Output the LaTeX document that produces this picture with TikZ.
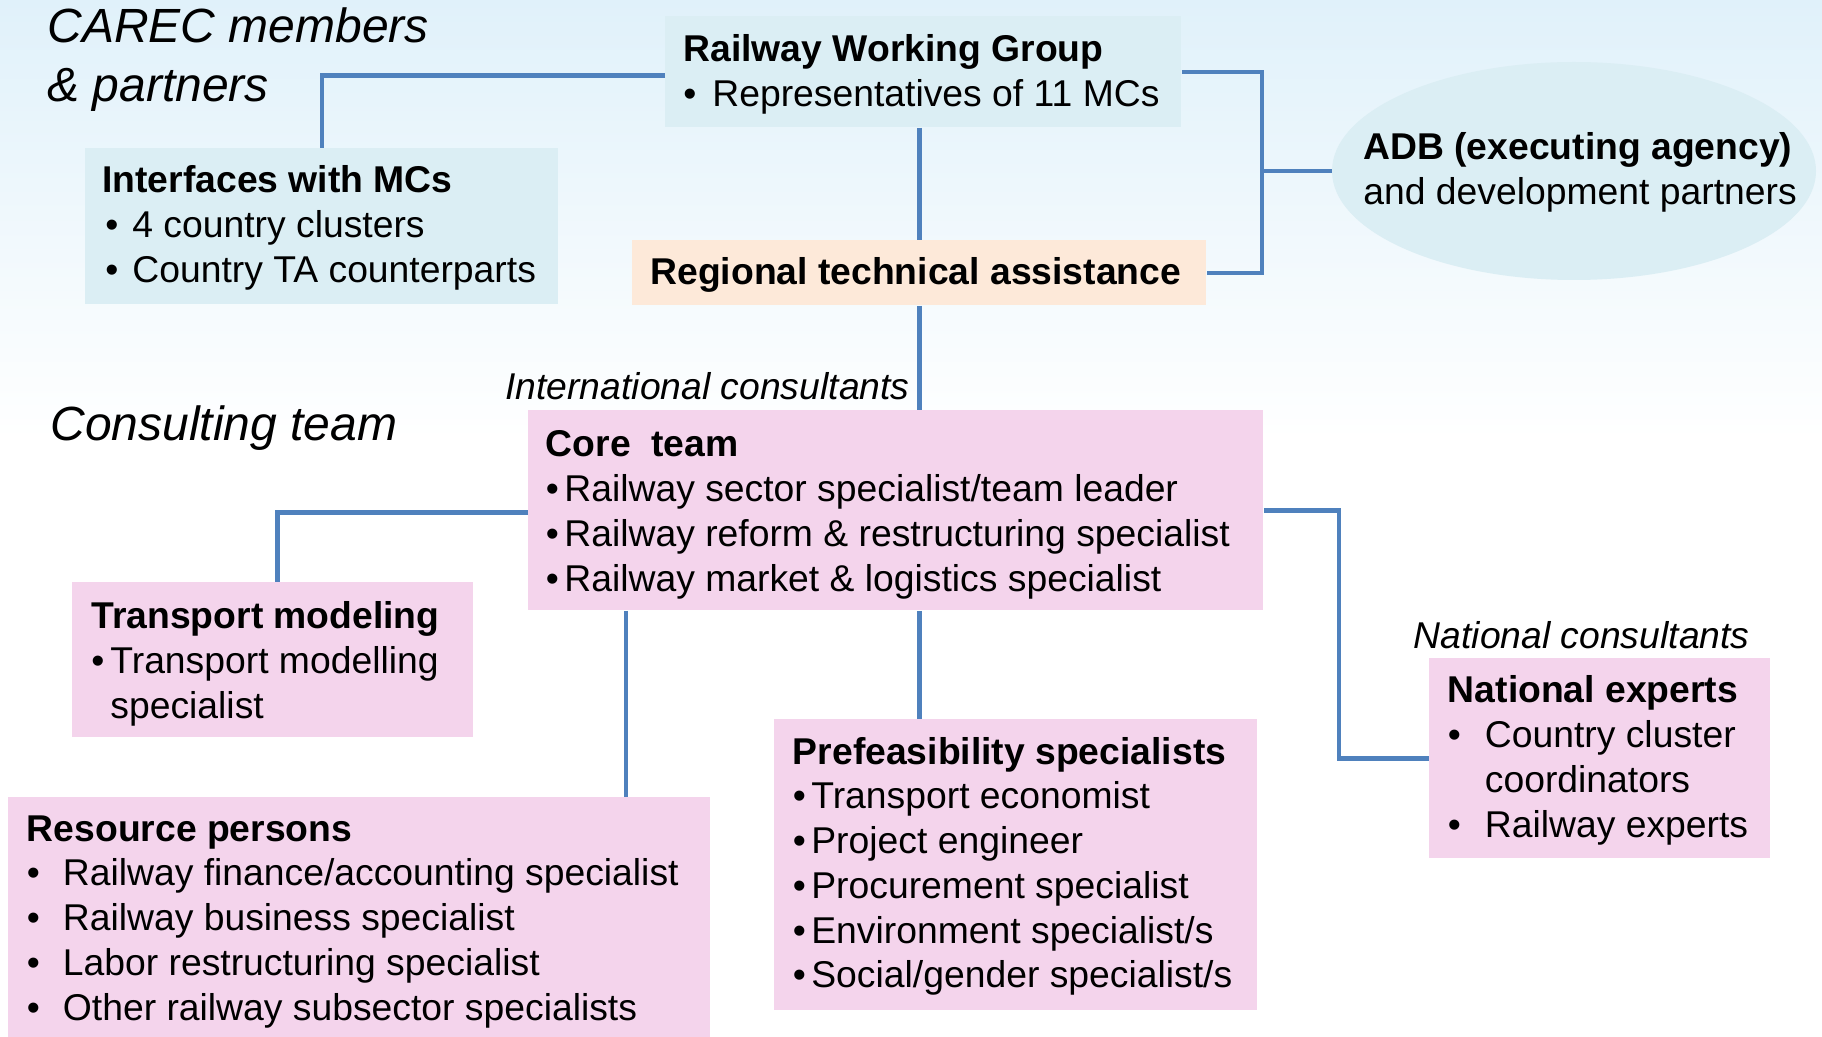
\documentclass[tikz,border=0pt]{standalone}
\usepackage{fontspec}
\setmainfont{Liberation Sans}
\usetikzlibrary{shapes.geometric}
\definecolor{bgtop}{HTML}{E0F1FA}
\definecolor{boxblue}{HTML}{DBEEF4}
\definecolor{boxpeach}{HTML}{FDE9D9}
\definecolor{boxpink}{HTML}{F4D4EC}
\definecolor{linkblue}{HTML}{4F81BD}
\newcommand\bodyfont{\fontsize{18.65}{22.4}\selectfont}
\newcommand\headfont{\fontsize{24}{29.5}\selectfont\itshape}
\newcommand\mybul[2][0pt]{\makebox[#2][l]{\hspace{#1}•}}
\tikzset{
  box/.style={rectangle, draw=none, anchor=north west, inner sep=0pt},
  bluebox/.style={box, fill=boxblue},
  peachbox/.style={box, fill=boxpeach},
  pinkbox/.style={box, fill=boxpink},
  txt/.style={anchor=base west, inner sep=0pt, font=\bodyfont},
  itxt/.style={anchor=base east, inner sep=0pt, font=\bodyfont\itshape},
  head/.style={anchor=base west, inner sep=0pt, font=\headfont},
  link/.style={draw=linkblue, line width=2.25pt}
}
\begin{document}
\begin{tikzpicture}[x=0.5pt,y=-0.5pt]
\useasboundingbox (0,0) rectangle (1822,1037);
\shade[top color=bgtop, bottom color=white] (0,0) rectangle (1822,440);
\fill[white] (0,440) rectangle (1822,1037);

% boxes
\node[bluebox, minimum width=258pt, minimum height=55.5pt] (rwg) at (665,16) {};
\node[bluebox, minimum width=236.5pt, minimum height=78pt] (ifc) at (85,148) {};
\node[peachbox, minimum width=287pt, minimum height=32.5pt] (rta) at (632,240) {};
\node[ellipse, fill=boxblue, inner sep=0pt, minimum width=242pt, minimum height=109pt] (adb) at (1574,171) {};
\node[pinkbox, minimum width=367.5pt, minimum height=100pt] (core) at (528,410) {};
\node[pinkbox, minimum width=200.5pt, minimum height=77.5pt] (tm) at (72,582) {};
\node[pinkbox, minimum width=351pt, minimum height=120pt] (rp) at (8,797) {};
\node[pinkbox, minimum width=241.5pt, minimum height=145.5pt] (pf) at (774,719) {};
\node[pinkbox, minimum width=170.5pt, minimum height=100pt] (ne) at (1429,658) {};

% helper coordinates
\coordinate (brk) at (1262,171);
\coordinate (nbr) at (1339,635);
\path (core.south west) ++(98,0) coordinate (crp);

% connectors
\draw[link] ([yshift=-1.75pt]rwg.west) -| (ifc.north);
\draw[link] (rta.north |- rwg.south) -- (rta.north);
\draw[link] (rta.south) -- (rta.south |- core.north);
\draw[link] (rwg.east) -| (brk) |- (rta.east);
\draw[link] (brk) -- (adb.west);
\draw[link] ([yshift=-1pt]core.west) -| ([xshift=2.25pt]tm.north);
\draw[link] (crp) -- (crp |- rp.north);
\draw[link] (rta.south |- core.south) -- (rta.south |- pf.north);
\draw[link] (core.east) -| (nbr) |- (ne.west);

% texts
\node[head] (t-carec) at (47,43) {\begin{tabular}[t]{@{}l@{}}CAREC members\\\& partners\end{tabular}};
\node[head] (t-cons) at (50,441) {Consulting team};
\node[itxt] (t-intl) at (910,400) {International consultants};
\node[itxt] (t-natl) at (1750,648) {National consultants};

\node[txt] (t-rwg) at (683,62) {\begin{tabular}[t]{@{}l@{}}\textbf{Railway Working Group}\\
\mybul{14.5pt}Representatives of 11 MCs\end{tabular}};
\node[txt] (t-ifc) at (102,193) {\begin{tabular}[t]{@{}l@{}}\textbf{Interfaces with MCs}\\
\mybul[1.5pt]{15pt}4 country clusters\\
\mybul[1.5pt]{15pt}Country TA counterparts\end{tabular}};
\node[txt] (t-adb) at (1363,160) {\begin{tabular}[t]{@{}l@{}}\textbf{ADB (executing agency)}\\
and development partners\end{tabular}};
\node[txt] (t-rta) at (650,285) {\textbf{Regional technical assistance}};
\node[txt] (t-core) at (545.5,457) {\begin{tabular}[t]{@{}l@{}}\textbf{Core\ \ team}\\
\mybul{9.25pt}Railway sector specialist/team leader\\
\mybul{9.25pt}Railway reform \& restructuring specialist\\
\mybul{9.25pt}Railway market \& logistics specialist\end{tabular}};
\node[txt] (t-tm) at (91,629) {\begin{tabular}[t]{@{}l@{}}\textbf{Transport modeling}\\
\mybul{9.5pt}Transport modelling\\
\hspace*{9.5pt}specialist\end{tabular}};
\node[txt] (t-rp) at (26.5,841) {\begin{tabular}[t]{@{}l@{}}\textbf{Resource persons}\\
\mybul{18pt}Railway finance/accounting specialist\\
\mybul{18pt}Railway business specialist\\
\mybul{18pt}Labor restructuring specialist\\
\mybul{18pt}Other railway subsector specialists\end{tabular}};
\node[txt] (t-pf) at (792.5,764) {\begin{tabular}[t]{@{}l@{}}\textbf{Prefeasibility specialists}\\
\mybul{9.25pt}Transport economist\\
\mybul{9.25pt}Project engineer\\
\mybul{9.25pt}Procurement specialist\\
\mybul{9.25pt}Environment specialist/s\\
\mybul{9.25pt}Social/gender specialist/s\end{tabular}};
\node[txt] (t-ne) at (1447.5,703) {\begin{tabular}[t]{@{}l@{}}\textbf{National experts}\\
\mybul{18.5pt}Country cluster\\
\hspace*{18.5pt}coordinators\\
\mybul{18.5pt}Railway experts\end{tabular}};
\end{tikzpicture}
\end{document}
